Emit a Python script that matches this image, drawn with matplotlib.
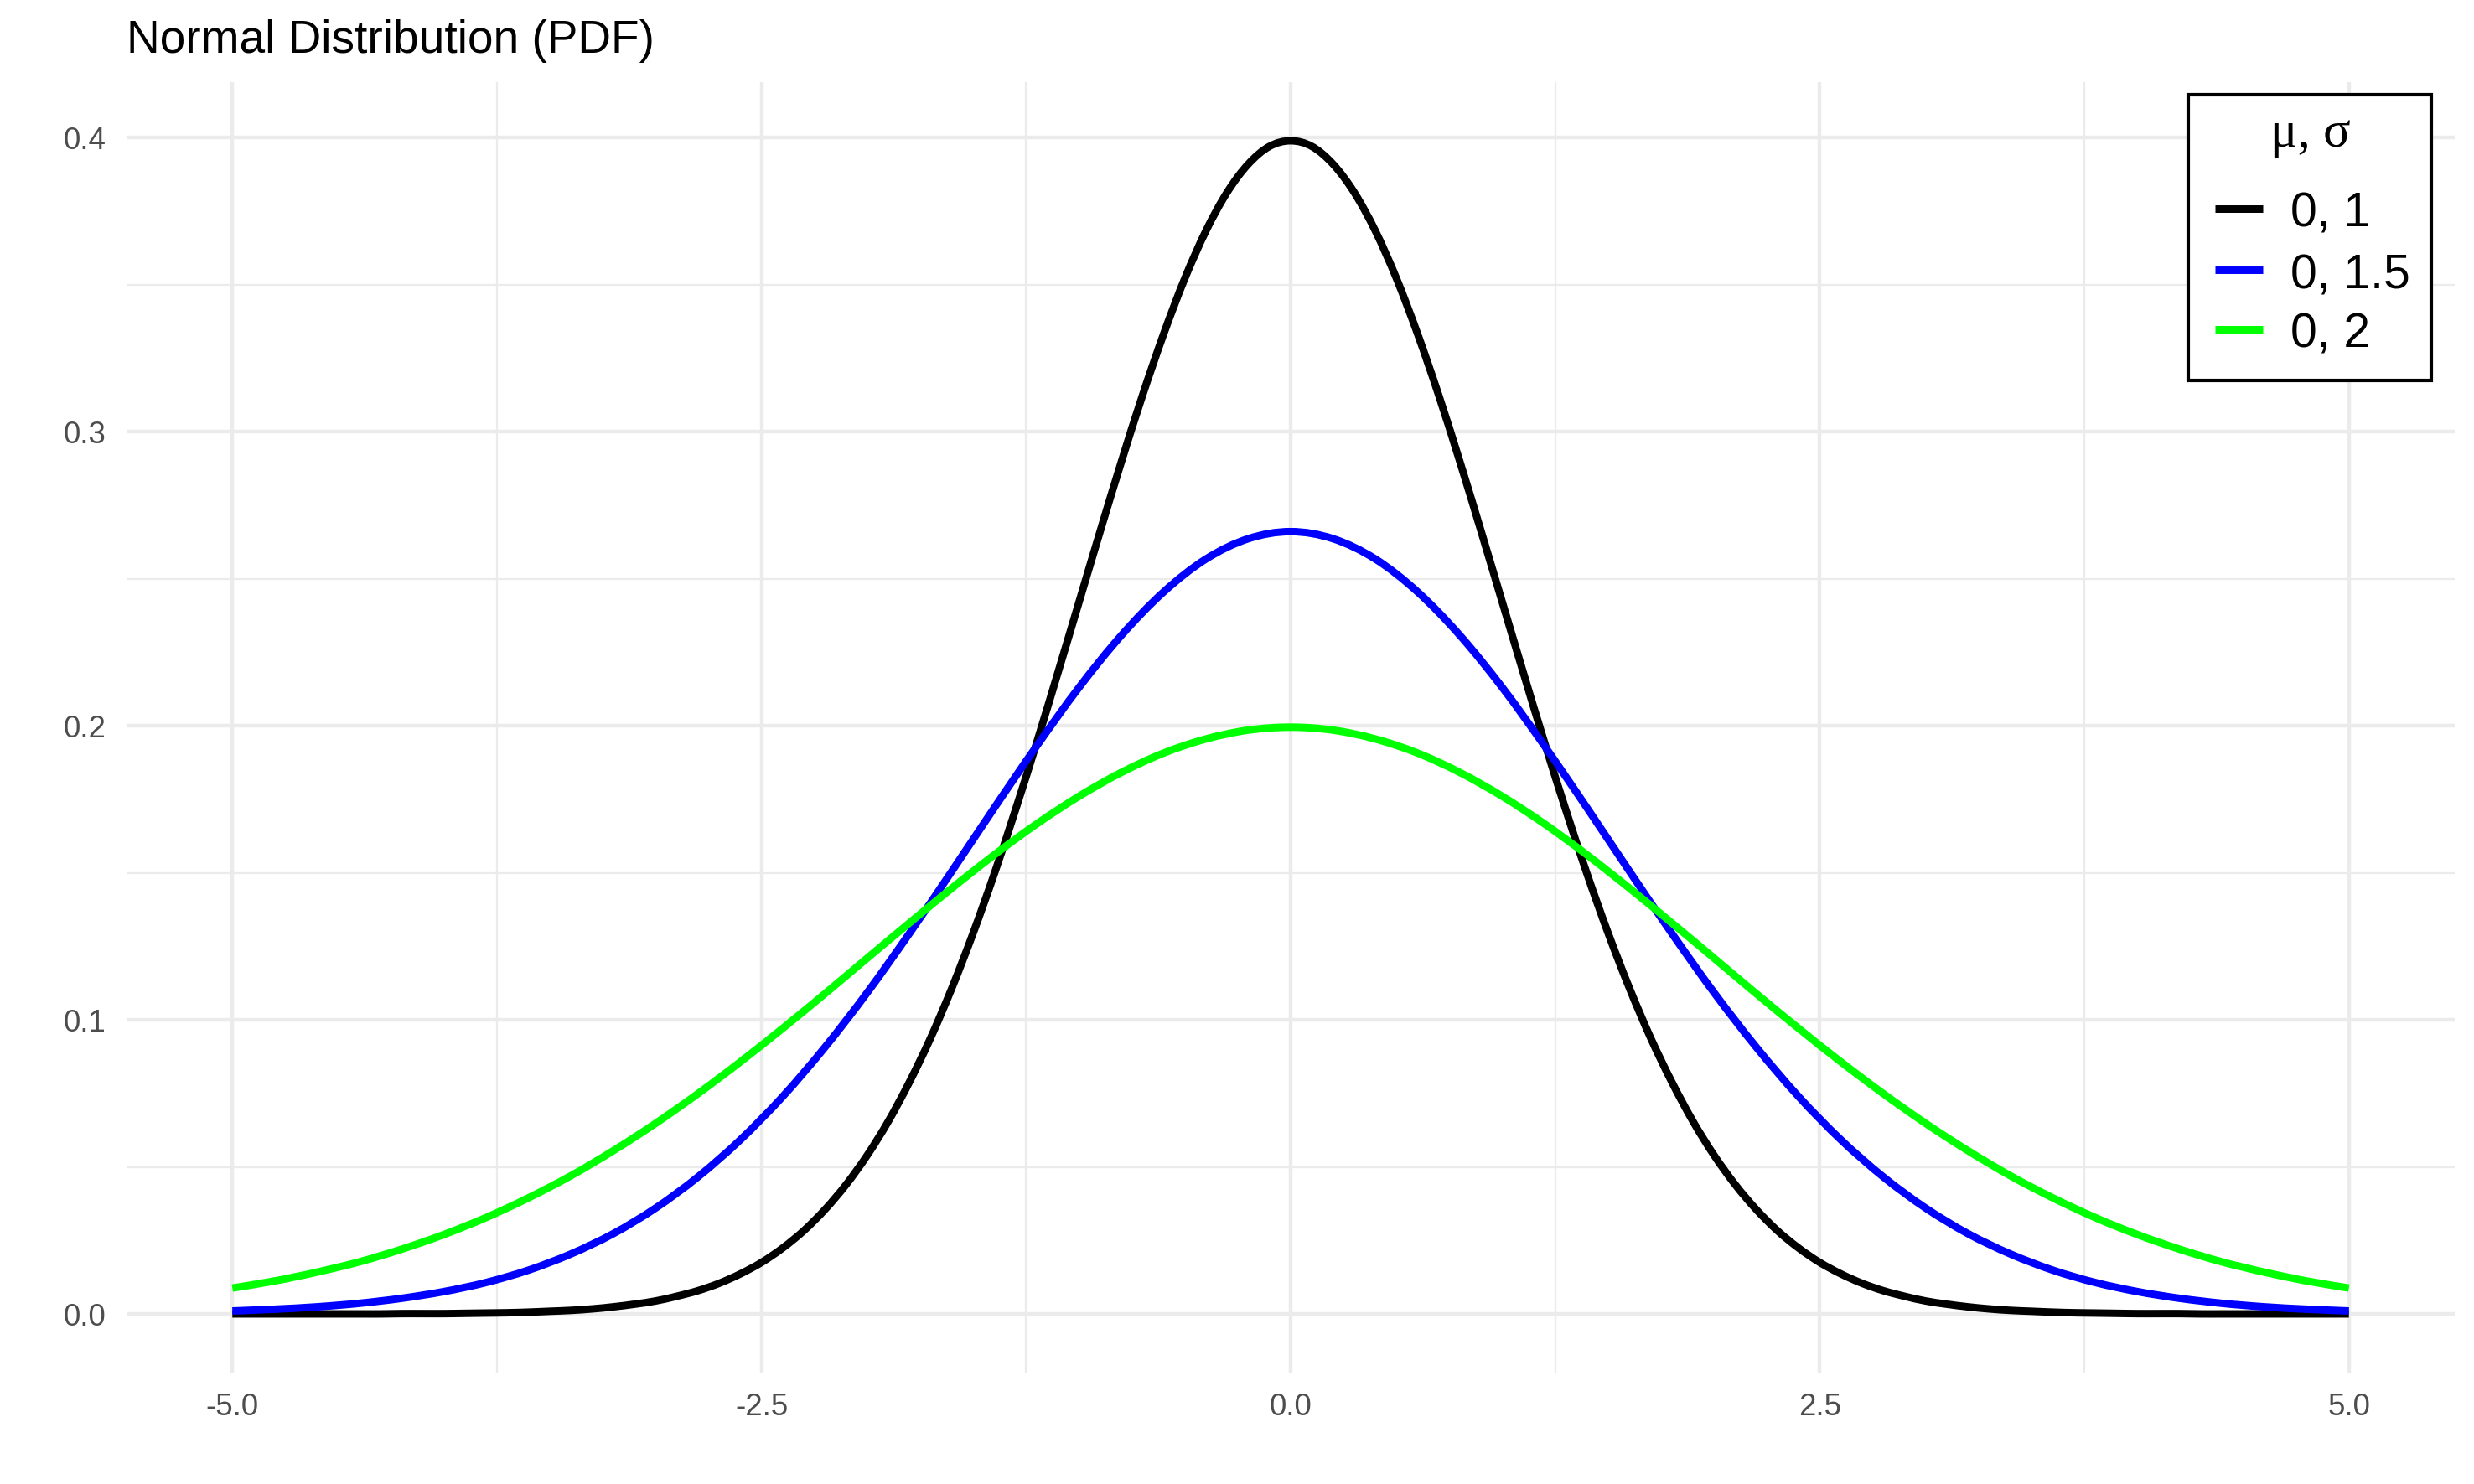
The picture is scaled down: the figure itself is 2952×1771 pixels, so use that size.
import numpy as np
import matplotlib
matplotlib.use("Agg")
import matplotlib.pyplot as plt
from matplotlib.patches import Rectangle, PathPatch
from matplotlib.path import Path
from matplotlib.lines import Line2D
from matplotlib.ticker import FixedLocator

plt.rcParams['font.family'] = ['Liberation Sans', 'DejaVu Sans']
plt.rcParams['axes.unicode_minus'] = False

# ---------------- data ----------------
x_fine = np.linspace(-5, 5, 101)     # step 0.1
x_coarse = np.linspace(-5, 5, 51)    # step 0.2

pdf_0_1 = [0.0000, 0.0000, 0.0000, 0.0000, 0.0000, 0.0000, 0.0000, 0.0000,
           0.0001, 0.0001, 0.0001, 0.0002, 0.0003, 0.0004, 0.0006, 0.0009,
           0.0012, 0.0017, 0.0024, 0.0033, 0.0044, 0.0060, 0.0079, 0.0104,
           0.0136, 0.0175, 0.0224, 0.0283, 0.0355, 0.0440, 0.0540, 0.0656,
           0.0790, 0.0940, 0.1109, 0.1295, 0.1497, 0.1714, 0.1942, 0.2179,
           0.2420, 0.2661, 0.2897, 0.3123, 0.3332, 0.3521, 0.3683, 0.3814,
           0.3910, 0.3970,
           0.3989,
           0.3970, 0.3910, 0.3814, 0.3683, 0.3521, 0.3332, 0.3123, 0.2897,
           0.2661, 0.2420, 0.2179, 0.1942, 0.1714, 0.1497, 0.1295, 0.1109,
           0.0940, 0.0790, 0.0656, 0.0540, 0.0440, 0.0355, 0.0283, 0.0224,
           0.0175, 0.0136, 0.0104, 0.0079, 0.0060, 0.0044, 0.0033, 0.0024,
           0.0017, 0.0012, 0.0009, 0.0006, 0.0004, 0.0003, 0.0002, 0.0001,
           0.0001, 0.0001, 0.0000, 0.0000, 0.0000, 0.0000, 0.0000, 0.0000,
           0.0000, 0.0000]

pdf_0_15 = [0.0010, 0.0016, 0.0024, 0.0036, 0.0053, 0.0076, 0.0107, 0.0149,
            0.0204, 0.0273, 0.0360, 0.0466, 0.0592, 0.0739, 0.0907, 0.1093,
            0.1295, 0.1506, 0.1721, 0.1931, 0.2130, 0.2307, 0.2455, 0.2567,
            0.2636,
            0.2660,
            0.2636, 0.2567, 0.2455, 0.2307, 0.2130, 0.1931, 0.1721, 0.1506,
            0.1295, 0.1093, 0.0907, 0.0739, 0.0592, 0.0466, 0.0360, 0.0273,
            0.0204, 0.0149, 0.0107, 0.0076, 0.0053, 0.0036, 0.0024, 0.0016,
            0.0010]

pdf_0_2 = [0.0088, 0.0112, 0.0142, 0.0177, 0.0220, 0.0270, 0.0328, 0.0395,
           0.0470, 0.0555, 0.0648, 0.0749, 0.0857, 0.0971, 0.1089, 0.1210,
           0.1330, 0.1448, 0.1561, 0.1666, 0.1760, 0.1841, 0.1907, 0.1955,
           0.1985,
           0.1995,
           0.1985, 0.1955, 0.1907, 0.1841, 0.1760, 0.1666, 0.1561, 0.1448,
           0.1330, 0.1210, 0.1089, 0.0971, 0.0857, 0.0749, 0.0648, 0.0555,
           0.0470, 0.0395, 0.0328, 0.0270, 0.0220, 0.0177, 0.0142, 0.0112,
           0.0088]

series_labels = ["0, 1", "0, 1.5", "0, 2"]
series_colors = ["#000000", "#0000FF", "#00FF00"]
x_ticks = [-5.0, -2.5, 0.0, 2.5, 5.0]
x_ticklabels = ["-5.0", "-2.5", "0.0", "2.5", "5.0"]
y_ticks = [0.0, 0.1, 0.2, 0.3, 0.4]
y_ticklabels = ["0.0", "0.1", "0.2", "0.3", "0.4"]
title = "Normal Distribution (PDF)"
legend_title = "\u03bc, \u03c3"

# ---------------- figure ----------------
W, H = 2952, 1771
DPI = 300
fig = plt.figure(figsize=(W / DPI, H / DPI), dpi=DPI)

def fx(px):
    return px / W

def fy(py):
    return 1 - py / H

ax = fig.add_axes([fx(151), fy(1638), (2929 - 151) / W, (1638 - 98) / H])


def smooth_path(xv, yv):
    """Bezier path passing through every data point (Catmull-Rom tangents)."""
    P = np.column_stack([np.asarray(xv, float), np.asarray(yv, float)])
    n = len(P)
    verts = [P[0]]
    codes = [Path.MOVETO]
    for i in range(n - 1):
        p0 = P[i - 1] if i > 0 else P[i]
        p1 = P[i]
        p2 = P[i + 1]
        p3 = P[i + 2] if i + 2 < n else P[i + 1]
        c1 = p1 + (p2 - p0) / 6.0
        c2 = p2 - (p3 - p1) / 6.0
        verts += [c1, c2, p2]
        codes += [Path.CURVE4] * 3
    return Path(np.array(verts), codes)


xs = [x_fine, x_coarse, x_coarse]
ys = [pdf_0_1, pdf_0_15, pdf_0_2]
for xv, yv, lab, col in zip(xs, ys, series_labels, series_colors):
    patch = PathPatch(smooth_path(xv, yv), facecolor='none', edgecolor=col,
                      lw=2.15, capstyle='butt', joinstyle='round', zorder=3,
                      label=lab)
    ax.add_patch(patch)

# ggplot-like expansion
all_y = np.concatenate([np.asarray(v) for v in ys])
ymin, ymax = 0.0, all_y.max()
ypad = 0.05 * (ymax - ymin)
ax.set_ylim(ymin - ypad, ymax + ypad)
ax.set_xlim(-5.5, 5.5)

ax.set_xticks(x_ticks)
ax.set_xticklabels(x_ticklabels)
ax.set_yticks(y_ticks)
ax.set_yticklabels(y_ticklabels)
ax.xaxis.set_minor_locator(FixedLocator([-3.75, -1.25, 1.25, 3.75]))
ax.yaxis.set_minor_locator(FixedLocator([0.05, 0.15, 0.25, 0.35]))

ax.tick_params(axis='both', which='both', length=0)
ax.tick_params(axis='both', which='major', labelsize=8.8, labelcolor='#4D4D4D', pad=5.8)
ax.grid(True, which='major', color='#EBEBEB', lw=1.07, zorder=0)
ax.grid(True, which='minor', color='#EBEBEB', lw=0.53, zorder=0)
ax.set_axisbelow(True)
for s in ax.spines.values():
    s.set_visible(False)

# title
fig.text(fx(151), fy(63), title, fontsize=13.2, color='black', ha='left', va='baseline')

# legend (ggplot-style, inside panel at top right)
rect = Rectangle((fx(2611), fy(454)), (2901 - 2611) / W, (454 - 113) / H,
                 transform=fig.transFigure, facecolor='white', edgecolor='black',
                 lw=1.0, zorder=10)
fig.add_artist(rect)
fig.text(fx(2757), fy(160), legend_title, fontsize=14.6,
         family=['Liberation Serif', 'DejaVu Serif'], ha='center', va='center',
         zorder=11)
key_y = [249, 322, 393]
for ky, lab, col in zip(key_y, series_labels, series_colors):
    ln = Line2D([fx(2643), fx(2700)], [fy(ky), fy(ky)], transform=fig.transFigure,
                color=col, lw=2.15, solid_capstyle='butt', zorder=11)
    fig.add_artist(ln)
    fig.text(fx(2733), fy(ky + 22), lab, fontsize=13.7, color='black',
             ha='left', va='baseline', zorder=11)

fig.savefig("out.png", dpi=DPI, facecolor='white')
